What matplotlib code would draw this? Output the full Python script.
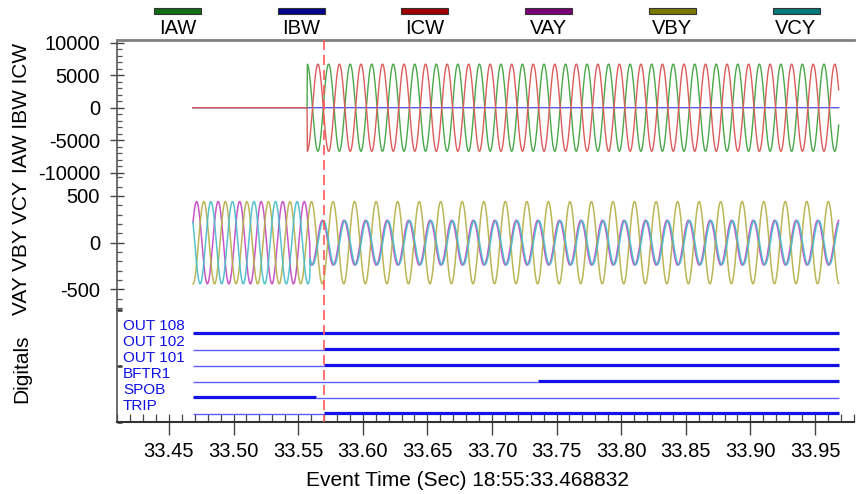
import numpy as np
import matplotlib
matplotlib.use('Agg')
import matplotlib.pyplot as plt
from matplotlib.ticker import MultipleLocator, FixedLocator, NullFormatter, FormatStrFormatter
from matplotlib.patches import Rectangle
import matplotlib.transforms as mtransforms

plt.rcParams['font.family'] = ['Liberation Sans', 'DejaVu Sans']
plt.rcParams['axes.unicode_minus'] = False

# ---------------- data ----------------
record_start = 33.4686          # s
record_end = 33.9686            # s
freq_hz = 60.0
samples_per_cycle = 64

current_names = ['IAW', 'IBW', 'ICW']
current_onset = 33.557
current_amplitude = [6700, 0, 6700]
current_peak_time = [33.5736, 33.5653, 33.5653]

voltage_names = ['VAY', 'VBY', 'VCY']
fault_time = 33.559
voltage_amp_pre = [440, 440, 440]
voltage_amp_post = [240, 440, 235]
voltage_peak_pre = [33.4714, 33.4770, 33.4825]
voltage_peak_post = [33.5688, 33.4770, 33.5696]

digital_names = ['OUT 108', 'OUT 102', 'OUT 101', 'BFTR1', 'SPOB', 'TRIP']
digital_initial = [1, 0, 0, 0, 1, 0]
digital_change_time = [None, 33.570, 33.570, 33.736, 33.5635, 33.570]

trigger_time = 33.570

legend_names = ['IAW', 'IBW', 'ICW', 'VAY', 'VBY', 'VCY']
legend_colors = ['#0f6e12', '#00008c', '#a00000', '#7a007a', '#7a7800', '#007a7a']
line_colors = ['#4aa84a', '#5a5ae0', '#dc5c5c', '#c444c4', '#b4ae44', '#44bcc8']

xlim = (33.4098, 33.9802)
xticks_label_fmt = '%.2f'

# ---------------- figure ----------------
W_PX, H_PX = 856, 494
fig = plt.figure(figsize=(W_PX / 100, H_PX / 100), dpi=100)

L = 117 / W_PX
AW = (854 - 117) / W_PX


def rect(top_px, bot_px):
    return [L, 1 - bot_px / H_PX, AW, (bot_px - top_px) / H_PX]


ax1 = fig.add_axes(rect(40, 175.4))
ax2 = fig.add_axes(rect(175.4, 310))
ax3 = fig.add_axes(rect(310, 421.7))

t = np.arange(record_start, record_end, 1.0 / (freq_hz * samples_per_cycle))
w = 2 * np.pi * freq_hz

# currents
for name, amp, pk, col in zip(current_names, current_amplitude, current_peak_time, line_colors[:3]):
    y = np.where(t < current_onset, 0.0, amp * np.cos(w * (t - pk)))
    ax1.plot(t, y, color=col, lw=1.0)

# voltages
for name, a0, a1, p0, p1, col in zip(voltage_names, voltage_amp_pre, voltage_amp_post,
                                     voltage_peak_pre, voltage_peak_post, line_colors[3:]):
    y = np.where(t < fault_time, a0 * np.cos(w * (t - p0)), a1 * np.cos(w * (t - p1)))
    ax2.plot(t, y, color=col, lw=1.1, alpha=0.9)

# digitals
n_dig = len(digital_names)
for i, (name, init, tc) in enumerate(zip(digital_names, digital_initial, digital_change_time)):
    yline = (n_dig - 1 - i) + 0.5
    if tc is None:
        segs = [(record_start, record_end, init)]
    else:
        segs = [(record_start, tc, init), (tc, record_end, 1 - init)]
    for s, e, st in segs:
        if st:
            ax3.hlines(yline + 0.05, s, e, color='#1212e6', lw=2.3)
        else:
            ax3.hlines(yline, s, e, color='#5c5cff', lw=1.0)
    ax3.text(0.008, yline + 0.5, name, transform=mtransforms.blended_transform_factory(ax3.transAxes, ax3.transData),
             ha='left', va='center', fontsize=11, color='#1010e6')

# axes styling
for ax in (ax1, ax2, ax3):
    ax.set_xlim(*xlim)
    ax.spines['right'].set_visible(False)
    ax.spines['left'].set_color('#555555')
    ax.spines['left'].set_linewidth(1.2)
    ax.set_facecolor('none')
for ax in (ax1, ax2):
    ax.spines['bottom'].set_visible(False)
    ax.tick_params(axis='x', which='both', bottom=False, labelbottom=False)
ax2.spines['top'].set_visible(False)
ax3.spines['top'].set_visible(False)
ax1.spines['top'].set_color('#808080')
ax1.spines['top'].set_linewidth(2)
ax3.spines['bottom'].set_color('#333333')
ax3.spines['bottom'].set_linewidth(1.5)

ax1.set_ylim(-10400, 10400)
ax1.yaxis.set_major_locator(FixedLocator([-10000, -5000, 0, 5000, 10000]))
ax1.yaxis.set_minor_locator(MultipleLocator(1000))
ax2.set_ylim(-720, 720)
ax2.yaxis.set_major_locator(FixedLocator([-500, 0, 500]))
ax2.yaxis.set_minor_locator(MultipleLocator(100))
for ax in (ax1, ax2):
    ax.tick_params(axis='y', which='major', direction='inout', length=9.4, width=1.0,
                   pad=7.5, labelsize=14.5, color='#444444')
    ax.tick_params(axis='y', which='minor', direction='in', length=3.6, width=0.9, color='#555555')

ax3.set_ylim(0, n_dig + 1)
ax3.yaxis.set_major_locator(FixedLocator([0, (n_dig + 1) / 2, n_dig + 1]))
ax3.yaxis.set_major_formatter(NullFormatter())
ax3.tick_params(axis='y', which='major', direction='in', length=3.6, width=1.8, color='#333333')

ax3.xaxis.set_major_locator(MultipleLocator(0.05))
ax3.xaxis.set_minor_locator(MultipleLocator(0.01))
ax3.xaxis.set_major_formatter(FormatStrFormatter(xticks_label_fmt))
ax3.xaxis.remove_overlapping_locs = False
ax3.tick_params(axis='x', which='major', direction='out', length=9.6, width=1.0, pad=5,
                labelsize=14.5, color='#444444')
ax3.tick_params(axis='x', which='minor', direction='in', length=5.5, width=0.9, color='#444444')

# trigger line across all panels
trans = mtransforms.blended_transform_factory(ax3.transData, fig.transFigure)
fig.add_artist(plt.Line2D([trigger_time, trigger_time], [1 - 40 / H_PX, 1 - 421.7 / H_PX],
                          transform=trans, color='#ff5a5a', lw=1.2, dashes=(6, 3)))

# panel labels
fig.text(22 / W_PX, 1 - 108 / H_PX, 'IAW IBW ICW', rotation=90, ha='center', va='center', fontsize=15)
fig.text(22 / W_PX, 1 - 248 / H_PX, 'VAY VBY VCY', rotation=90, ha='center', va='center', fontsize=15)
fig.text(22 / W_PX, 1 - 369 / H_PX, 'Digitals', rotation=90, ha='center', va='center', fontsize=15)

fig.text(467 / W_PX, 1 - 486 / H_PX, 'Event Time (Sec) 18:55:33.468832', ha='center', va='baseline',
         fontsize=15)

# legend strip
for i, (name, c) in enumerate(zip(legend_names, legend_colors)):
    cx = 177.5 + i * 123.7
    fig.add_artist(Rectangle(((cx - 23.5) / W_PX, 1 - 14 / H_PX), 47 / W_PX, 6 / H_PX,
                             transform=fig.transFigure, facecolor=c, edgecolor='#333333', lw=0.8))
    fig.text(cx / W_PX, 1 - 34 / H_PX, name, ha='center', va='baseline', fontsize=14.5)

fig.savefig('out.png', dpi=100, facecolor='white')
